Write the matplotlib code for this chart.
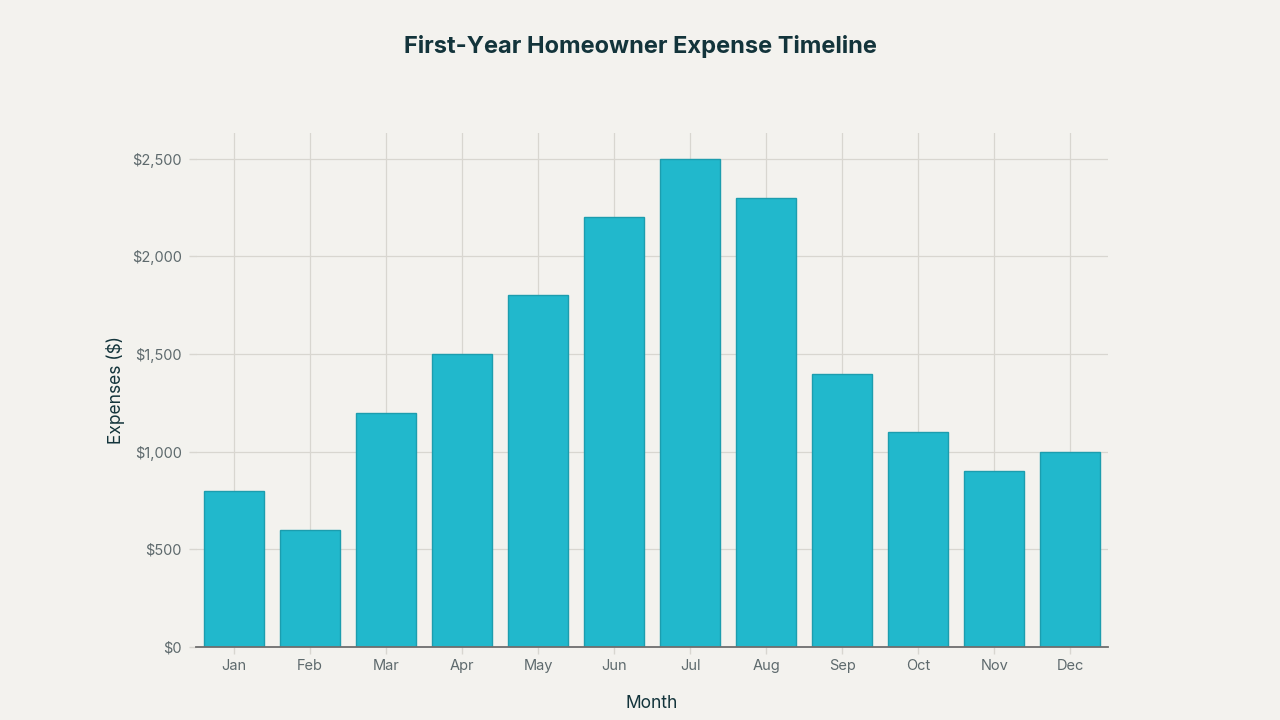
import matplotlib
matplotlib.use("Agg")
import matplotlib.pyplot as plt
from matplotlib.ticker import FuncFormatter

months = ["Jan", "Feb", "Mar", "Apr", "May", "Jun", "Jul", "Aug", "Sep", "Oct", "Nov", "Dec"]
expenses = [800, 600, 1200, 1500, 1800, 2200, 2500, 2300, 1400, 1100, 900, 1000]
yticks = [0, 500, 1000, 1500, 2000, 2500]

plt.rcParams['font.family'] = ['Inter', 'DejaVu Sans']
bg = "#F3F2EE"
fig = plt.figure(figsize=(12.8, 7.2), dpi=100, facecolor=bg)
ax = fig.add_axes([0.153, 0.1014, 0.713, 0.7139], facecolor=bg)

x = list(range(len(months)))
ax.bar(x, expenses, width=0.79, color="#21B8CC", edgecolor="#1C9DAE", linewidth=1, zorder=3)

ax.set_xlim(-0.5, len(months) - 0.5)
ax.set_ylim(0, 2632)
ax.set_xticks(x)
ax.set_xticklabels(months)
ax.set_yticks(yticks)
ax.yaxis.set_major_formatter(FuncFormatter(lambda v, p: f"${v:,.0f}"))

ax.grid(True, color="#D8D6D0", linewidth=0.9, zorder=0)
for s in ["top", "right", "left"]:
    ax.spines[s].set_visible(False)
ax.spines["bottom"].set_color("#6E6E6E")
ax.spines["bottom"].set_linewidth(1.3)
ax.spines["bottom"].set_zorder(4)

ax.tick_params(axis="both", colors="#D8D6D0", labelcolor="#5E6A6D", labelsize=10.5, length=5, width=1)
ax.tick_params(axis="x", pad=4)
ax.tick_params(axis="y", pad=5)

ax.set_xlabel("Month", fontsize=12.5, color="#13343B", labelpad=15.5)
ax.set_ylabel("Expenses ($)", fontsize=12.5, color="#13343B", labelpad=5)

fig.suptitle("First-Year Homeowner Expense Timeline", x=0.5, y=0.951, fontsize=17,
             fontweight="bold", color="#13343B")

fig.savefig("out.png", dpi=100, facecolor=bg)
